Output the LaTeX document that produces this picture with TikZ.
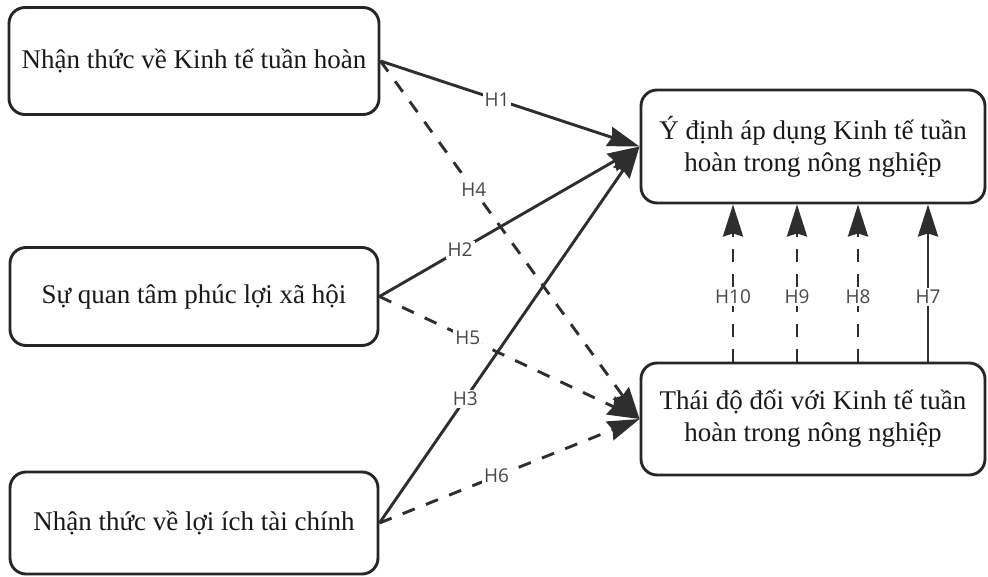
\documentclass[tikz,border=0pt]{standalone}
\usepackage{fontspec}
\setmainfont{Liberation Serif}
\newfontfamily\labelfont{Open Sans}
\usetikzlibrary{arrows.meta}

\begin{document}
\begin{tikzpicture}[x=1pt,y=-1pt,
		box/.style={draw=black!85,line width=2.9pt,rounded corners=16pt,align=center,inner sep=0pt,text=black!90,font=\fontsize{27}{32}\selectfont},
		link/.style={draw=black!82,line width=2.9pt,-{Stealth[length=32pt,width=20pt,inset=3pt]}},
		dlink/.style={link,dash pattern=on 13pt off 12pt},
		hlabel/.style={fill=white,inner sep=2pt,text=black!72,font=\labelfont\fontsize{19}{22}\selectfont}]
		\useasboundingbox (0,0) rectangle (988,576);
		\node[box,minimum width=370pt,minimum height=107pt] (awareness) at (194,61) {Nhận thức về Kinh tế tuần hoàn};
		\node[box,minimum width=368pt,minimum height=98pt] (welfare) at (194,296.5) {Sự quan tâm phúc lợi xã hội};
		\node[box,minimum width=368pt,minimum height=102pt] (benefit) at (194,523) {Nhận thức về lợi ích tài chính};
		\node[box,minimum width=344pt,minimum height=113pt] (intent) at (813,146.5) {Ý định áp dụng Kinh tế tuần\\hoàn trong nông nghiệp};
		\node[box,minimum width=344pt,minimum height=112pt] (attitude) at (813,419) {Thái độ đối với Kinh tế tuần\\hoàn trong nông nghiệp};
		\draw[link] (awareness.east) -- node[hlabel,pos=0.45]{H1} (intent.west);
		\draw[link] (welfare.east) -- node[hlabel,pos=0.31]{H2} (intent.west);
		\draw[link] (benefit.east) -- node[hlabel,pos=0.33]{H3} (intent.west);
		\draw[dlink] (awareness.east) -- node[hlabel,pos=0.36]{H4} (attitude.west);
		\draw[dlink] (welfare.east) -- node[hlabel,pos=0.34]{H5} (attitude.west);
		\draw[dlink] (benefit.east) -- node[hlabel,pos=0.45]{H6} (attitude.west);
		\draw[link] ([xshift=115]attitude.north) -- node[hlabel,pos=0.41]{H7} ([xshift=115]intent.south);
		\draw[dlink] ([xshift=45]attitude.north) -- node[hlabel,pos=0.41]{H8} ([xshift=45]intent.south);
		\draw[dlink] ([xshift=-16]attitude.north) -- node[hlabel,pos=0.41]{H9} ([xshift=-16]intent.south);
		\draw[dlink] ([xshift=-80]attitude.north) -- node[hlabel,pos=0.41]{H10} ([xshift=-80]intent.south);
	\end{tikzpicture}
\end{document}
